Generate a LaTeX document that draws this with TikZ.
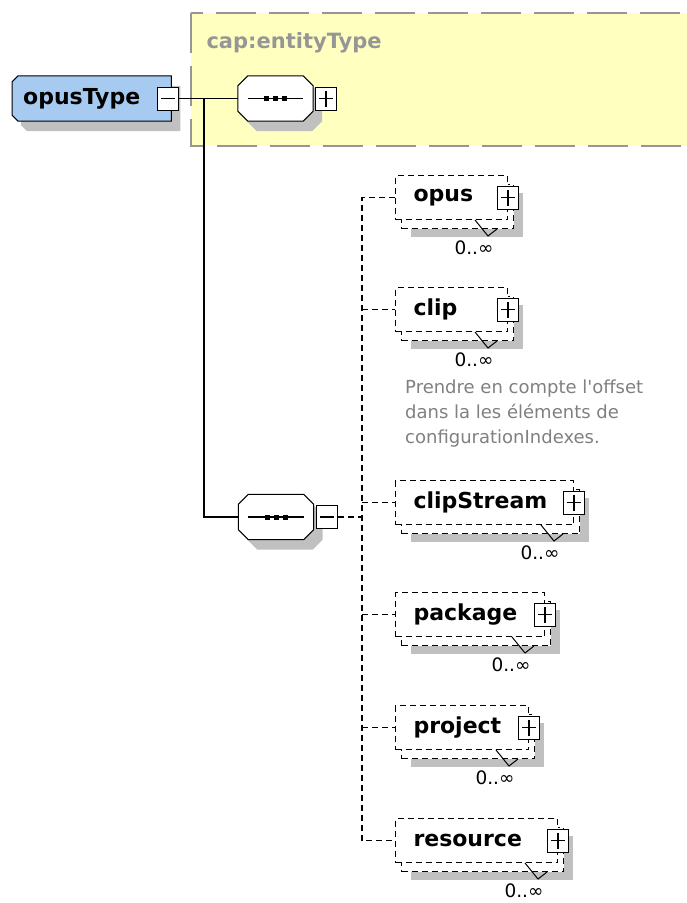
\documentclass[tikz,border=0pt]{standalone}
\usepackage{fontspec}
\setmainfont{DejaVu Sans}[Ligatures=TeXOff]
\usetikzlibrary{positioning,shadows,backgrounds}

\definecolor{typeblue}{RGB}{166,202,240}
\definecolor{groupyellow}{RGB}{255,255,192}
\definecolor{shadowgray}{RGB}{192,192,192}
\definecolor{framegray}{RGB}{150,150,150}
\definecolor{notegray}{RGB}{128,128,128}

\tikzset{
  wire/.style={line width=1.2pt},
  dashwire/.style={line width=1.2pt, dash pattern=on 6pt off 4pt},
  signbox/.style={draw, fill=white, line width=1pt, minimum width=21pt, minimum height=23pt, inner sep=0pt},
  typebox/.style={minimum width=159pt, minimum height=45pt, inner xsep=11pt, text width=137pt, align=left,
    font=\bfseries\fontsize{22}{26}\selectfont},
  seqbox/.style={minimum width=75pt, minimum height=45pt, inner sep=0pt},
  elembox/.style={draw, fill=white, line width=1pt, dash pattern=on 6pt off 4pt,
    minimum height=44pt, inner xsep=18pt, align=left, font=\bfseries\fontsize{22}{26}\selectfont,
    general shadow={shadow xshift=15pt, shadow yshift=-17pt, fill=shadowgray},
    general shadow={shadow xshift=6pt, shadow yshift=-9pt, fill=white, draw, line width=1pt, dash pattern=on 6pt off 4pt}},
  card/.style={inner sep=1pt, font=\fontsize{18.5}{22}\selectfont},
  boxshadow/.style={fill=shadowgray, transform canvas={shift={(9pt,-10pt)}}}
}

\newcommand\octpath[2]{([xshift=#2]#1.north west) -- ([xshift=-#2]#1.north east) -- ([yshift=-#2]#1.north east)
  -- ([yshift=#2]#1.south east) -- ([xshift=-#2]#1.south east) -- ([xshift=#2]#1.south west)
  -- ([yshift=#2]#1.south west) -- ([yshift=-#2]#1.north west) -- cycle}
\newcommand\leftcutpath[2]{([xshift=#2]#1.north west) -- (#1.north east) -- (#1.south east)
  -- ([xshift=#2]#1.south west) -- ([yshift=#2]#1.south west) -- ([yshift=-#2]#1.north west) -- cycle}
\newcommand\minussign[1]{\draw[line width=1.5pt] ([xshift=4pt]#1.west) -- ([xshift=-4pt]#1.east);}
\newcommand\plussign[1]{\minussign{#1}\draw[line width=1.5pt] ([yshift=-4pt]#1.north) -- ([yshift=4pt]#1.south);}
\newcommand\seqshape[1]{%
  \fill[boxshadow] \octpath{#1}{10pt};
  \draw[fill=white, line width=1pt] \octpath{#1}{10pt};
  \draw[line width=1.2pt] ([xshift=10pt]#1.west) -- ([xshift=-10pt]#1.east);
  \fill ([xshift=-9pt]#1.center) +(-2.5,-2.5) rectangle +(2.5,2.5);
  \fill (#1.center) +(-2.5,-2.5) rectangle +(2.5,2.5);
  \fill ([xshift=9pt]#1.center) +(-2.5,-2.5) rectangle +(2.5,2.5);}
% element: name, label, top, text width
\newcommand\xsdelement[4]{%
  \node[elembox, text width=#4pt, anchor=north west] (#1) at (395,#3) {#2};
  \node[signbox] (#1plus) at (#1.east) {};
  \plussign{#1plus}
  \draw[line width=1pt] ([xshift=-33pt]#1.south east) -- ([xshift=-20pt,yshift=-16pt]#1.south east)
    -- ([xshift=-11pt,yshift=-9pt]#1.south east);
  \node[card] (#1card) at ([xshift=-34pt,yshift=-28pt]#1.south east) {0..∞};}

\begin{document}
\begin{tikzpicture}[x=1pt,y=-1pt]
\useasboundingbox (0,0) rectangle (687,903);

% group from cap:entityType
\draw[framegray, fill=groupyellow, line width=2pt, dash pattern=on 40pt off 13pt] (191,13) rectangle (700,146);
\node[anchor=west, framegray, font=\bfseries\fontsize{21}{24}\selectfont] (grouplabel) at (203,43) {cap:entityType};

% the complex type
\node[typebox, anchor=west] (opustype) at (12,98.5) {opusType};
\begin{pgfonlayer}{background}
  \fill[boxshadow] \leftcutpath{opustype}{6pt};
  \draw[fill=typeblue, line width=1pt] \leftcutpath{opustype}{6pt};
\end{pgfonlayer}
\node[signbox] (typeminus) at ([xshift=-3pt]opustype.east) {};
\minussign{typeminus}

% sequences
\node[seqbox] (seqtop) at (275.5,98.5) {};
\seqshape{seqtop}
\node[signbox, right=2pt of seqtop] (seqtopplus) {};
\plussign{seqtopplus}
\node[seqbox] (seqbot) at (276,517) {};
\seqshape{seqbot}
\node[signbox, right=2pt of seqbot] (seqbotminus) {};
\minussign{seqbotminus}

\coordinate (split) at (204,98.5);
\coordinate (bus) at (362,517);
\draw[wire] (typeminus.east) -- (seqtop.west);
\draw[wire] (split) |- (seqbot.west);

% elements
\xsdelement{opus}{opus}{175}{76}
\xsdelement{clip}{clip}{287}{76}
\xsdelement{clipstream}{clipStream}{480}{142}
\xsdelement{package}{package}{592}{113}
\xsdelement{project}{project}{705}{97}
\xsdelement{resource}{resource}{818}{126}

\node[anchor=north west, notegray, inner sep=0pt, align=left, font=\fontsize{18}{25}\selectfont] (clipnote)
  at (405,380) {Prendre en compte l'offset\\dans la les éléments de\\configurationIndexes.};

\draw[dashwire] (seqbotminus.east) -- (bus);
\draw[dashwire] (opus.west) -- (bus |- opus.west) -- (bus |- resource.west) -- (resource.west);
\draw[dashwire] (bus |- clip.west) -- (clip.west);
\draw[dashwire] (bus |- clipstream.west) -- (clipstream.west);
\draw[dashwire] (bus |- package.west) -- (package.west);
\draw[dashwire] (bus |- project.west) -- (project.west);
\end{tikzpicture}
\end{document}
